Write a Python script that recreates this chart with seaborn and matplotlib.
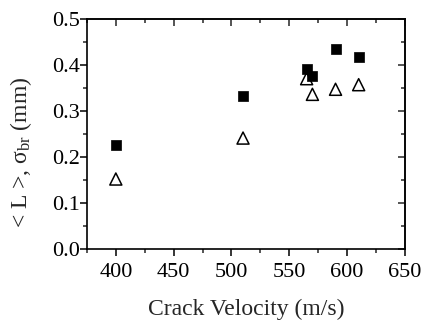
import matplotlib
matplotlib.use("Agg")
import matplotlib.pyplot as plt
import seaborn as sns
import pandas as pd
from matplotlib.ticker import MultipleLocator

velocity = [400, 510, 565, 570, 590, 610]
mean_L = [0.227, 0.333, 0.391, 0.375, 0.434, 0.417]
sigma_br = [0.152, 0.241, 0.370, 0.336, 0.347, 0.357]

sns.set_theme(style="white")
plt.rcParams['font.family'] = ['Liberation Serif', 'DejaVu Serif']
plt.rcParams['mathtext.fontset'] = 'custom'
plt.rcParams['mathtext.rm'] = 'Liberation Serif'
plt.rcParams['mathtext.it'] = 'Liberation Serif:italic'

df = pd.DataFrame({"v": velocity, "L": mean_L, "s": sigma_br})

fig = plt.figure(figsize=(4.24, 3.2), dpi=100)
ax = fig.add_axes([0.205, 0.222, 0.75, 0.719])

sns.scatterplot(data=df, x="v", y="L", ax=ax, marker="s", s=55,
                color="black", edgecolor="black", linewidth=0.5, zorder=3)
sns.scatterplot(data=df, x="v", y="s", ax=ax, marker="^", s=75,
                facecolor="none", edgecolor="black", linewidth=1.1, zorder=3)

ax.set_xlim(375, 650)
ax.set_ylim(0.0, 0.5)
ax.xaxis.set_major_locator(MultipleLocator(50))
ax.xaxis.set_minor_locator(MultipleLocator(25))
ax.yaxis.set_major_locator(MultipleLocator(0.1))
ax.yaxis.set_minor_locator(MultipleLocator(0.05))
ax.yaxis.set_major_formatter(matplotlib.ticker.FormatStrFormatter('%.1f'))

ax.tick_params(axis='both', which='major', direction='out', length=5, width=1.1,
               labelsize=16, colors='black')
ax.tick_params(axis='x', which='major', pad=5)
ax.tick_params(axis='y', which='major', pad=0)
ax.tick_params(axis='both', which='minor', direction='out', length=3, width=1.1)
ax.tick_params(bottom=True, left=True, which='both')

for sp in ax.spines.values():
    sp.set_color('black')
    sp.set_linewidth(1.2)

top = ax.secondary_xaxis('top')
top.xaxis.set_major_locator(MultipleLocator(50))
top.xaxis.set_minor_locator(MultipleLocator(25))
top.tick_params(which='major', direction='in', length=5, width=1.1, labeltop=False)
top.tick_params(which='minor', direction='in', length=3, width=1.1)
top.spines['top'].set_linewidth(1.2)

right = ax.secondary_yaxis('right')
right.yaxis.set_major_locator(MultipleLocator(0.1))
right.yaxis.set_minor_locator(MultipleLocator(0.05))
right.tick_params(which='major', direction='in', length=5, width=1.1, labelright=False)
right.tick_params(which='minor', direction='in', length=3, width=1.1)
right.spines['right'].set_linewidth(1.2)

ax.set_xlabel("Crack Velocity (m/s)", fontsize=17)
ax.set_ylabel(r"< L >, σ$_{\rm br}$ (mm)", fontsize=17)
ax.xaxis.set_label_coords(0.5, -0.215)
ax.yaxis.set_label_coords(-0.165, 0.42)

fig.savefig("out.png", dpi=100)
